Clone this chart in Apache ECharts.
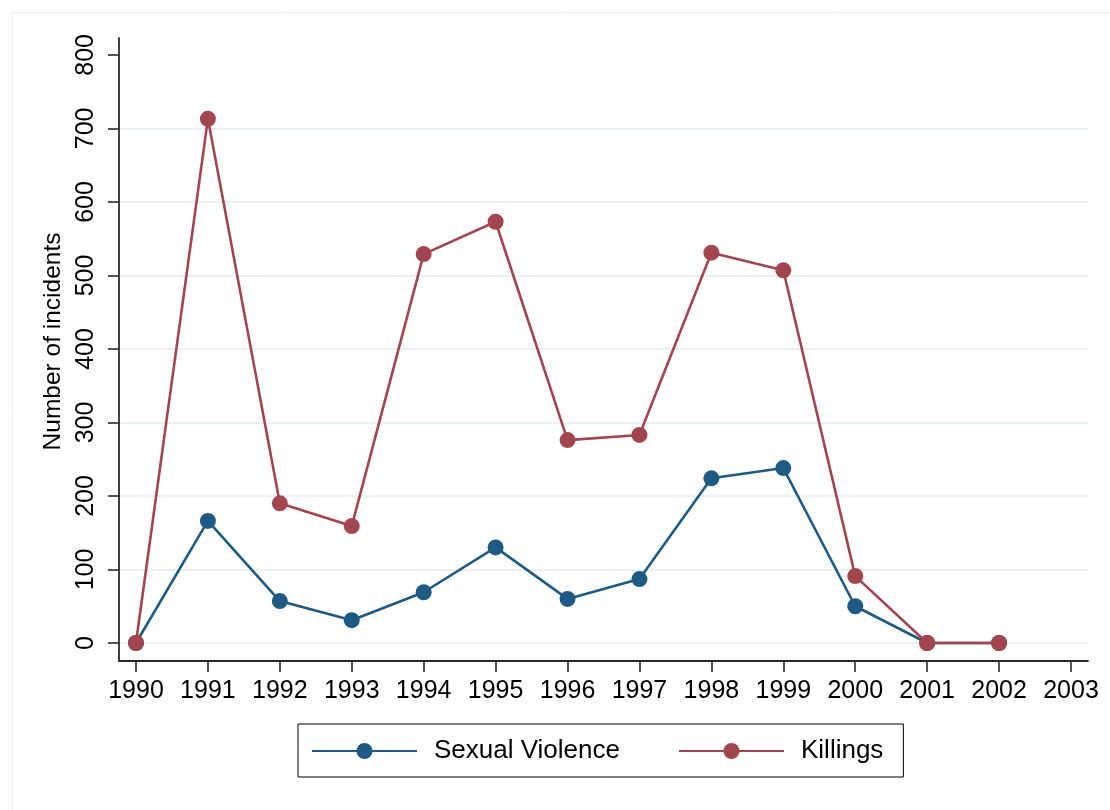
<!DOCTYPE html>
<html>
<head>
<meta charset="utf-8">
<script src="https://cdn.jsdelivr.net/npm/echarts@6/dist/echarts.min.js"></script>
<style>
  html, body { margin: 0; padding: 0; background: #fff; }
  #chart { width: 1110px; height: 810px; }
</style>
</head>
<body>
<div id="chart"></div>
<script>
const years = [1990, 1991, 1992, 1993, 1994, 1995, 1996, 1997, 1998, 1999, 2000, 2001, 2002];
const sexualViolence = [0, 166, 57, 31, 69, 130, 60, 87, 224, 238, 50, 0, 0];
const killings = [0, 713, 190, 159, 529, 573, 276, 283, 531, 507, 91, 0, 0];
const xTicks = [1990, 1991, 1992, 1993, 1994, 1995, 1996, 1997, 1998, 1999, 2000, 2001, 2002, 2003];
const yTicks = [0, 100, 200, 300, 400, 500, 600, 700, 800];
const yGrid = [0, 100, 200, 300, 400, 500, 600, 700];
const seriesNames = ['Sexual Violence', 'Killings'];

const blue = '#1f5a84';
const red = '#a3454f';
const axisColor = '#2a2a2a';
const font = '"Liberation Sans", Arial, Helvetica, sans-serif';

const chart = echarts.init(document.getElementById('chart'), null, { renderer: 'canvas' });

const option = {
  backgroundColor: '#ffffff',
  animation: false,
  textStyle: { fontFamily: font },
  graphic: [{
    type: 'rect',
    left: 10, top: 10,
    shape: { width: 1200, height: 900 },
    style: { fill: 'none', stroke: '#ececec', lineWidth: 1 },
    silent: true
  }],
  grid: { left: 119, right: 22, top: 38, bottom: 149, containLabel: false, outerBoundsMode: 'none' },
  xAxis: {
    type: 'value',
    min: 1989.764, max: 2003.236,
    axisLine: { show: true, onZero: false, lineStyle: { color: axisColor, width: 1.8 } },
    axisTick: { show: true, length: 11, customValues: xTicks, lineStyle: { color: axisColor, width: 1.6 } },
    axisLabel: {
      customValues: xTicks, margin: 18, color: '#000', fontSize: 25, fontFamily: font,
      formatter: v => String(v)
    },
    splitLine: { show: false }
  },
  yAxis: {
    type: 'value',
    min: -24.5, max: 823,
    name: 'Number of incidents',
    nameLocation: 'middle',
    nameGap: 47,
    nameTextStyle: { color: '#000', fontSize: 24.5, fontFamily: font, padding: [0, 0, 0, 16] },
    axisLine: { show: true, onZero: false, lineStyle: { color: axisColor, width: 1.8 } },
    axisTick: { show: true, length: 11, customValues: yTicks, lineStyle: { color: axisColor, width: 1.6 } },
    axisLabel: {
      customValues: yTicks, rotate: 90, margin: 20, color: '#000', fontSize: 25, fontFamily: font,
      formatter: v => String(v)
    },
    splitLine: { show: false }
  },
  legend: {
    left: 298, top: 724,
    orient: 'horizontal',
    padding: [14, 20, 13, 13],
    itemGap: 58,
    itemWidth: 105,
    itemHeight: 20,
    borderColor: '#000',
    borderWidth: 1,
    textStyle: { color: '#000', fontSize: 26, fontFamily: font, padding: [0, 0, 0, 12] },
    data: seriesNames
  },
  series: [
    {
      name: 'Grid',
      type: 'line',
      data: [],
      z: 0,
      silent: true,
      markLine: {
        silent: true,
        z: 0,
        symbol: 'none',
        label: { show: false },
        lineStyle: { color: '#eaf1f3', width: 2, type: 'solid' },
        data: yGrid.map(v => ({ yAxis: v }))
      }
    },
    {
      name: seriesNames[0],
      type: 'line',
      z: 10,
      data: years.map((y, i) => [y, sexualViolence[i]]),
      symbol: 'circle',
      symbolSize: 16,
      lineStyle: { color: blue, width: 2.6 },
      itemStyle: { color: blue, borderWidth: 0 },
      emphasis: { disabled: true }
    },
    {
      name: seriesNames[1],
      type: 'line',
      z: 11,
      data: years.map((y, i) => [y, killings[i]]),
      symbol: 'circle',
      symbolSize: 16,
      lineStyle: { color: red, width: 2.6 },
      itemStyle: { color: red, borderWidth: 0 },
      emphasis: { disabled: true }
    }
  ]
};

chart.setOption(option);
</script>
</body>
</html>
